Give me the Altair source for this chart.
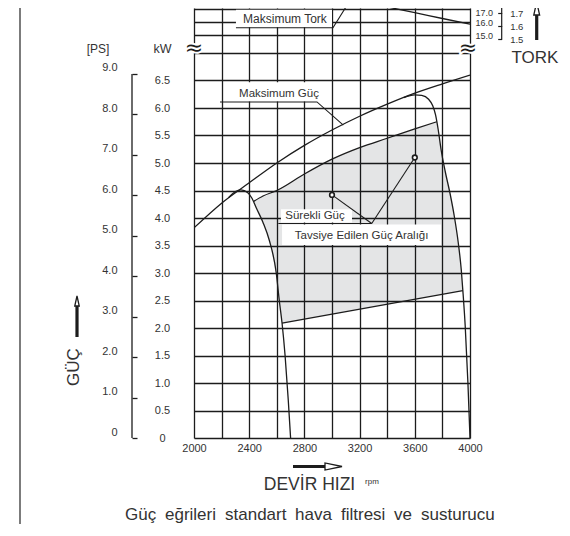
import altair as alt
import pandas as pd

# ---------------- values ----------------
RPM_GRID = [2000, 2200, 2400, 2600, 2800, 3000, 3200, 3400, 3600, 3800, 4000]
KW_TICKS = [0, 0.5, 1.0, 1.5, 2.0, 2.5, 3.0, 3.5, 4.0, 4.5, 5.0, 5.5, 6.0, 6.5]
KW_BREAK = [7.0]
PS_TICKS = [0, 1, 2, 3, 4, 5, 6, 7, 8, 9]
TQ_TICKS = [15.0, 16.0, 17.0]
KGFM_TICKS = [1.5, 1.6, 1.7, 1.8]

# Maksimum Güç (upper envelope)
RPM_MAX = [2000, 2200, 2400, 2600, 2800, 3000, 3200, 3400, 3600, 3800, 4000]
KW_MAX = [3.82, 4.27, 4.64, 5.00, 5.32, 5.60, 5.85, 6.07, 6.27, 6.44, 6.60]

# governor drop-off, low speed side
RPM_LEFT = [2250, 2300, 2340, 2390, 2420, 2450, 2500, 2545, 2596, 2618, 2638, 2660, 2683, 2700]
KW_LEFT = [4.37, 4.48, 4.51, 4.46, 4.36, 4.19, 3.92, 3.60, 3.00, 2.50, 2.09, 1.50, 0.69, 0.00]

# governor drop-off, high speed side
RPM_RIGHT = [3520, 3600, 3650, 3700, 3730, 3750, 3770, 3790, 3820, 3855, 3885, 3915, 3937, 3950, 3965, 3985, 4000]
KW_RIGHT = [6.19, 6.24, 6.23, 6.16, 6.04, 5.88, 5.60, 5.25, 4.85, 4.45, 4.05, 3.55, 3.05, 2.62, 2.05, 1.00, 0.00]

# Sürekli Güç (upper edge of the recommended range)
RPM_CONT = [2431, 2500, 2600, 2800, 3000, 3200, 3400, 3600, 3759]
KW_CONT = [4.30, 4.40, 4.50, 4.80, 5.07, 5.28, 5.45, 5.62, 5.75]

# lower edge of the recommended range
RPM_LOW = [2638, 3948]
KW_LOW = [2.09, 2.68]

# Tork (N·m)
RPM_TQ = [3000, 3150, 3400, 3600, 3800, 4000]
TQ_NM = [17.95, 17.68, 17.14, 16.71, 16.27, 15.84]

# marked operating points
PT_RPM = [3000, 3600]
PT_KW = [4.42, 5.10]

# ---------------- layout / unit helpers ----------------
W, H = 276, 430
PX_KW = 55.0
Y_TOP = H / PX_KW
TQ_BASE, TQ_STEP = 7.32, 0.2418          # plot level of 15.0 N·m and step per N·m
KW_PER_PS = 0.73549875
NM_PER_KGFM = 9.80665


def tq(v):
    return TQ_BASE + (v - 15.0) * TQ_STEP


FONT = "Liberation Sans, Arial, sans-serif"
INK = "#1c1c1c"
TXT = "#333333"

xs = alt.Scale(domain=[2000, 4000], nice=False, zero=False)
ys = alt.Scale(domain=[0, Y_TOP], nice=False, zero=False)


def X(f):
    return alt.X(f"{f}:Q", scale=xs, axis=None)


def Y(f):
    return alt.Y(f"{f}:Q", scale=ys, axis=None)


layers = []

# ---- recommended range (shaded polygon) ----
poly = list(zip(RPM_CONT, KW_CONT))
poly += [(r, k) for r, k in zip(RPM_RIGHT, KW_RIGHT) if KW_LOW[1] < k < KW_CONT[-1] and r > RPM_CONT[-1]]
poly += [(RPM_LOW[1], KW_LOW[1]), (RPM_LOW[0], KW_LOW[0])]
poly += [(r, k) for r, k in reversed(list(zip(RPM_LEFT, KW_LEFT))) if KW_LOW[0] < k < KW_CONT[0] and r < RPM_LOW[0]]
poly.append(poly[0])
df_poly = pd.DataFrame({"rpm": [p[0] for p in poly], "kw": [p[1] for p in poly], "i": list(range(len(poly)))})
layers.append(
    alt.Chart(df_poly).mark_line(fill="#000814", fillOpacity=0.105, strokeOpacity=0, interpolate="linear")
    .encode(x=X("rpm"), y=Y("kw"), order="i:Q")
)

# ---- white label boxes ----
df_box = pd.DataFrame({
    "x1": [2304, 2304, 2630, 2638],
    "x2": [2913, 3000, 3145, 3790],
    "y1": [6.12, tq(15.62), 3.92, 3.51],
    "y2": [6.47, tq(16.93), 4.16, 3.88],
})
layers.append(
    alt.Chart(df_box).mark_rect(color="white")
    .encode(x=X("x1"), x2="x2:Q", y=Y("y1"), y2="y2:Q")
)

# ---- main curve with the grid axes ----
x_axis = alt.Axis(values=RPM_GRID, grid=True, gridColor=INK, gridWidth=1.3, domain=False, ticks=False,
                  labelExpr="datum.value % 400 == 0 ? format(datum.value, 'd') : ''",
                  labelFont=FONT, labelFontSize=11, labelColor=TXT, labelPadding=4,
                  labelFlush=False, labelOverlap=False, title=None)
kw_axis = alt.Axis(values=[float(v) for v in KW_TICKS + KW_BREAK] + [tq(t) for t in TQ_TICKS],
                   orient="left", grid=True, gridColor=INK, gridWidth=1.3, domain=False, ticks=False,
                   labelExpr="datum.value > 6.6 ? '' : (datum.value == 0 ? '0' : format(datum.value, '.1f'))",
                   labelAlign="center", labelPadding=32, labelFont=FONT, labelFontSize=11,
                   labelColor=TXT, labelFlush=False, labelOverlap=False, title=None)
df_max = pd.DataFrame({"rpm": RPM_MAX, "kw": KW_MAX})
layers.append(
    alt.Chart(df_max).mark_line(color=INK, strokeWidth=1.3, interpolate="monotone", clip=True)
    .encode(x=alt.X("rpm:Q", scale=xs, axis=x_axis), y=alt.Y("kw:Q", scale=ys, axis=kw_axis))
)

for rr, kk in [(RPM_LEFT, KW_LEFT), (RPM_RIGHT, KW_RIGHT), (RPM_CONT, KW_CONT), (RPM_LOW, KW_LOW)]:
    layers.append(
        alt.Chart(pd.DataFrame({"rpm": rr, "kw": kk}))
        .mark_line(color=INK, strokeWidth=1.3, interpolate="monotone", clip=True)
        .encode(x=X("rpm"), y=Y("kw"))
    )

# ---- torque curve with its labels (right side) ----
tq_axis = alt.Axis(values=[tq(t) for t in TQ_TICKS], orient="right", grid=False, domain=False, ticks=False,
                   labelExpr=f"format((datum.value - {TQ_BASE}) / {TQ_STEP} + 15, '.1f')",
                   labelAlign="left", labelPadding=5, labelFont=FONT, labelFontSize=9,
                   labelOffset={"condition": {"test": "datum.value > 7.7", "value": 4}, "value": 0},
                   labelColor=TXT, labelFlush=False, labelOverlap=False, title=None)
df_tq = pd.DataFrame({"rpm": RPM_TQ, "nm": TQ_NM})
layers.append(
    alt.Chart(df_tq).transform_calculate(lvl=f"{TQ_BASE} + (datum.nm - 15) * {TQ_STEP}")
    .mark_line(color=INK, strokeWidth=1.3, interpolate="monotone", clip=True)
    .encode(x=X("rpm"), y=alt.Y("lvl:Q", scale=ys, axis=tq_axis))
)

# ---- PS bracket axis (left) ----
ps_axis = alt.Axis(values=[p * KW_PER_PS for p in PS_TICKS], orient="right", offset=-(W + 62),
                   grid=False, domain=False, ticks=True, tickSize=5, tickColor=INK, tickWidth=1.3,
                   labelExpr=f"datum.value < 0.01 ? '0' : format(datum.value / {KW_PER_PS}, '.1f')",
                   labelAlign="right", labelPadding=-20, labelOffset=-6, labelFont=FONT, labelFontSize=11,
                   labelColor=TXT, labelFlush=False, labelOverlap=False, title=None)
df_ps = pd.DataFrame({"lo": [PS_TICKS[0] * KW_PER_PS], "hi": [PS_TICKS[-1] * KW_PER_PS]})
layers.append(
    alt.Chart(df_ps).mark_rule(color=INK, strokeWidth=1.3)
    .encode(x=alt.value(-62), y=alt.Y("lo:Q", scale=ys, axis=ps_axis), y2="hi:Q")
)

# ---- kgf·m bracket axis (right) ----
kg_axis = alt.Axis(values=[tq(k * NM_PER_KGFM) for k in KGFM_TICKS], orient="left", offset=-307.7,
                   grid=False, domain=False, ticks=True, tickSize=4, tickColor=INK, tickWidth=1.2,
                   labelExpr=f"format(((datum.value - {TQ_BASE}) / {TQ_STEP} + 15) / {NM_PER_KGFM}, '.1f')",
                   labelAlign="left", labelPadding=-12, labelFont=FONT, labelFontSize=9.5,
                   labelColor=TXT, labelFlush=False, labelOverlap=False, title=None)
df_kg = pd.DataFrame({"lo": [tq(KGFM_TICKS[0] * NM_PER_KGFM)], "hi": [tq(KGFM_TICKS[-1] * NM_PER_KGFM)]})
layers.append(
    alt.Chart(df_kg).mark_rule(color=INK, strokeWidth=1.2)
    .encode(x=alt.value(307.7), y=alt.Y("lo:Q", scale=ys, axis=kg_axis), y2="hi:Q")
)

# ---- leader lines ----
lead = [
    ("mg", 2188, 6.11), ("mg", 2891, 6.11), ("mg", 3082, 5.69),
    ("mt", 2304, tq(15.57)), ("mt", 3007, tq(15.57)), ("mt", 3135, tq(17.7)),
    ("sg", 2611, 3.90), ("sg", 3288, 3.90),
    ("c1", PT_RPM[0], PT_KW[0]), ("c1", 3288, 3.90),
    ("c2", PT_RPM[1], PT_KW[1]), ("c2", 3288, 3.90),
]
df_lead = pd.DataFrame({"g": [a[0] for a in lead], "rpm": [a[1] for a in lead],
                        "lvl": [a[2] for a in lead], "i": list(range(len(lead)))})
layers.append(
    alt.Chart(df_lead).mark_line(color=INK, strokeWidth=1.1, clip=True)
    .encode(x=X("rpm"), y=Y("lvl"), detail="g:N", order="i:Q")
)

# ---- operating point markers ----
layers.append(
    alt.Chart(pd.DataFrame({"rpm": PT_RPM, "kw": PT_KW}))
    .mark_point(shape="circle", size=22, fill="white", fillOpacity=1, stroke=INK, strokeWidth=1.6, opacity=1)
    .encode(x=X("rpm"), y=Y("kw"))
)

# ---- in-plot labels ----
df_lab = pd.DataFrame({
    "t": ["Maksimum Güç", "Maksimum Tork", "Sürekli Güç", "Tavsiye Edilen Güç Aralığı"],
    "rpm": [2616, 2659, 2877, 3215],
    "lvl": [6.255, tq(16.22), 4.036, 3.68],
    "fs": [11.5, 12, 11.5, 11.5],
})
layers.append(
    alt.Chart(df_lab).mark_text(font=FONT, color=TXT, baseline="middle", align="center")
    .encode(x=X("rpm"), y=Y("lvl"), text="t:N", size=alt.Size("fs:Q", scale=None, legend=None))
)

# ---- axis break symbols ----
df_brk = pd.DataFrame({"t": ["≈", "≈"], "rpm": [2000, 3985], "lvl": [7.1, 7.1]})
layers.append(
    alt.Chart(df_brk).mark_text(font="DejaVu Sans", fontSize=22, color="white", stroke="white", strokeWidth=4)
    .encode(x=X("rpm"), y=Y("lvl"), text="t:N")
)
layers.append(
    alt.Chart(df_brk).mark_text(font="DejaVu Sans", fontSize=22, color=INK)
    .encode(x=X("rpm"), y=Y("lvl"), text="t:N")
)


# ---- text outside the plot (pixel positions) ----
def px_text(texts, px, py, sizes, font, angle=0):
    df = pd.DataFrame({"t": texts, "px": px, "py": py, "fs": sizes})
    return alt.Chart(df).mark_text(font=font, color=TXT, align="center", baseline="middle", angle=angle).encode(
        x=alt.X("px:Q", scale=None, axis=None), y=alt.Y("py:Q", scale=None, axis=None),
        text="t:N", size=alt.Size("fs:Q", scale=None, legend=None))


layers.append(px_text(["[PS]", "kW", "rpm"], [-96, -31.5, 178], [41, 41, 473.5], [12, 12.5, 8], FONT))
layers.append(px_text(["DEVİR HIZI", "TORK"], [115.5, 341], [477, 50], [17.5, 17], FONT))
layers.append(px_text(["GÜÇ"], [-120], [359], [17], FONT, angle=270))

WORDS = ["Güç", "eğrileri", "standart", "hava", "filtresi", "ve", "susturucu"]
WORD_X = [125, 165, 225, 295, 341, 394, 421]
df_words = pd.DataFrame({"t": WORDS, "px": [x - 194 for x in WORD_X], "py": [507] * len(WORDS)})
layers.append(
    alt.Chart(df_words).mark_text(font=FONT, fontSize=17, color=TXT, align="left", baseline="middle")
    .encode(x=alt.X("px:Q", scale=None, axis=None), y=alt.Y("py:Q", scale=None, axis=None), text="t:N")
)

# ---- arrows (shafts + hollow heads) and frame line ----
df_shaft = pd.DataFrame({"px": [-117, 342.7, 99], "px2": [-117, 342.7, 133],
                         "py": [298, 6, 458.5], "py2": [329, 32, 458.5]})
layers.append(
    alt.Chart(df_shaft).mark_rule(color=INK, strokeWidth=3.2)
    .encode(x=alt.X("px:Q", scale=None, axis=None), x2="px2:Q",
            y=alt.Y("py:Q", scale=None, axis=None), y2="py2:Q")
)
UP_HEAD = "M0,-1L0.45,1L-0.45,1Z"
RIGHT_HEAD = "M1,0L-1,-0.42L-1,0.42Z"
df_up = pd.DataFrame({"px": [-117, 342.7], "py": [293, 0.5], "s": [100, 169]})
layers.append(
    alt.Chart(df_up).mark_point(shape=UP_HEAD, fill="white", fillOpacity=1, stroke=INK, strokeWidth=1.3, opacity=1)
    .encode(x=alt.X("px:Q", scale=None, axis=None), y=alt.Y("py:Q", scale=None, axis=None),
            size=alt.Size("s:Q", scale=None, legend=None))
)
df_rt = pd.DataFrame({"px": [139.5], "py": [458.5], "s": [289]})
layers.append(
    alt.Chart(df_rt).mark_point(shape=RIGHT_HEAD, fill="white", fillOpacity=1, stroke=INK, strokeWidth=1.3, opacity=1)
    .encode(x=alt.X("px:Q", scale=None, axis=None), y=alt.Y("py:Q", scale=None, axis=None),
            size=alt.Size("s:Q", scale=None, legend=None))
)
df_frame = pd.DataFrame({"px": [-174], "py": [-10], "py2": [530]})
layers.append(
    alt.Chart(df_frame).mark_rule(color="#444444", strokeWidth=1.4)
    .encode(x=alt.X("px:Q", scale=None, axis=None), y=alt.Y("py:Q", scale=None, axis=None), y2="py2:Q")
)

chart = (
    alt.layer(*layers)
    .properties(width=W, height=H, autosize=alt.AutoSizeParams(type="none"),
                padding={"left": 186, "top": 0, "right": 92, "bottom": 86})
    .resolve_axis(x="independent", y="independent")
    .configure_view(stroke=None)
)

chart.save("out.html", embed_options={"renderer": "svg", "actions": False})
